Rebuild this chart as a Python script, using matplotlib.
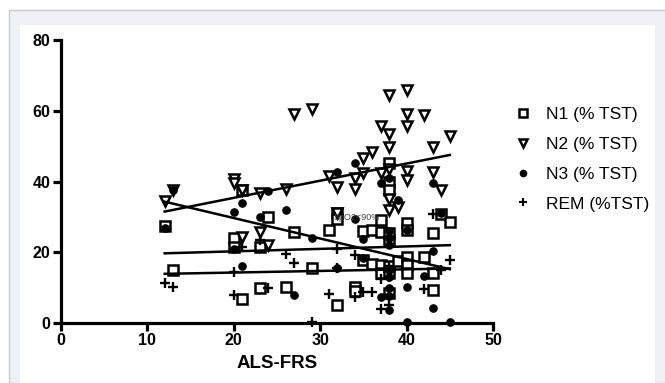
import matplotlib
matplotlib.use('Agg')
import matplotlib.pyplot as plt
from matplotlib.patches import Rectangle
from matplotlib.lines import Line2D

# data
n1_x = [12, 13, 20, 20, 21, 21, 23, 23, 24, 26, 27, 29, 31, 32, 32, 32, 34, 34, 35, 35, 36, 36,
        37, 37, 37, 37, 38, 38, 38, 38, 38, 38, 38, 38, 39, 40, 40, 40, 40, 40, 42, 43, 43, 43, 44, 45]
n1_y = [27.3, 15, 23.9, 21.5, 37.7, 6.7, 21.6, 10, 30, 10.3, 25.8, 15.6, 26.3, 31, 29.5, 5.1, 10.3, 9, 26, 17.8, 26.3, 16.6,
        29.1, 25.8, 16.4, 14, 45.2, 40, 37.6, 25.4, 23.2, 16.1, 14.2, 8.6, 17.5, 28.2, 26.3, 18.7, 16.4, 14, 18.7, 25.4, 14, 9.3, 30.8, 28.6]

n2_x = [12, 13, 20, 20, 21, 21, 23, 23, 24, 26, 27, 29, 31, 32, 32, 34, 34, 35, 35, 36, 37, 37,
        38, 38, 38, 38, 38, 38, 39, 40, 40, 40, 40, 40, 42, 43, 43, 44, 45]
n2_y = [34.6, 37.7, 40.8, 39.5, 37.5, 24.4, 36.7, 25.8, 22.1, 38, 59.2, 60.4, 41.6, 38.5, 31, 41, 38, 46.6, 42.3, 48.2, 55.7, 42.3,
        64.4, 53.4, 49.8, 43.5, 35, 32, 32.9, 65.9, 59, 55.6, 43, 40.4, 58.8, 49.7, 42.8, 37.6, 52.9]

n3_x = [12, 13, 20, 20, 21, 21, 23, 24, 26, 27, 29, 32, 32, 34, 34, 35, 35, 37, 37, 38, 38, 38, 38,
        38, 38, 38, 38, 38, 39, 40, 40, 40, 42, 43, 43, 43, 44, 45]
n3_y = [26.8, 37.6, 31.5, 21, 34, 16.1, 30, 37.3, 31.9, 7.9, 24, 42.8, 15.6, 45.3, 29.3, 23.8, 18.5, 39.5, 7.4, 41, 26, 24, 22,
        15, 13, 10, 7.5, 3.7, 34.8, 26.4, 10.3, 0.4, 13.3, 39.7, 20.3, 4.1, 31.1, 0.4]

rem_x = [12, 13, 20, 20, 21, 23, 24, 26, 27, 29, 31, 32, 32, 34, 34, 35, 36, 37, 37, 38, 38, 38, 38,
         42, 43, 44, 45]
rem_y = [11.4, 10.3, 14.5, 7.9, 21.6, 23.5, 10, 19.5, 16.9, 0.4, 8.1, 20.8, 15.5, 19.1, 7.4, 8.8, 8.8, 3.9, 12.4, 16, 13, 8, 5,
         9.6, 30.7, 15, 17.8]

# regression lines (end values at x=12 and x=45)
fit_x = [12, 45]
n1_fit = [19.7, 22.0]
n2_fit = [31.5, 47.5]
n3_fit = [34.3, 15.2]
rem_fit = [13.9, 15.4]

labels = ['N1 (% TST)', 'N2 (% TST)', 'N3 (% TST)', 'REM (%TST)']

plt.rcParams['font.family'] = ['Liberation Sans', 'DejaVu Sans']

fig = plt.figure(figsize=(6.65, 3.83), dpi=100)
fig.patch.set_facecolor('white')
# page-like background
fig.patches.append(Rectangle((9 / 665, 0), 1, 1 - 10 / 383, transform=fig.transFigure,
                             facecolor='#f0f0f7', edgecolor='#c8c8d0', linewidth=1, zorder=-2))
fig.patches.append(Rectangle((20 / 665, 0), 635 / 665, 1 - 25 / 383, transform=fig.transFigure,
                             facecolor='white', edgecolor='none', zorder=-1))

ax = fig.add_axes([61 / 665, 60 / 383, 432 / 665, 283 / 383])
ax.set_facecolor('none')
ax.set_zorder(2)

ax.plot(n1_x, n1_y, ls='none', marker='s', ms=6.8, mfc='white', mec='black', mew=1.8, zorder=3, clip_on=False)
ax.plot(n2_x, n2_y, ls='none', marker='v', ms=7.3, mfc='white', mec='black', mew=1.8, zorder=3, clip_on=False)
ax.plot(n3_x, n3_y, ls='none', marker='o', ms=5.2, mfc='black', mec='black', zorder=3, clip_on=False)
ax.plot(rem_x, rem_y, ls='none', marker='+', ms=7.2, mec='black', mew=1.7, zorder=3, clip_on=False)

for f in [n1_fit, n2_fit, n3_fit, rem_fit]:
    ax.plot(fit_x, f, color='black', lw=1.8, zorder=4)

ax.text(31.6, 29.8, 'SpO2<90%', fontsize=6.5, color='#444444', va='center', zorder=5)

ax.set_xlim(0, 50)
ax.set_ylim(0, 80)
ax.set_xticks([0, 10, 20, 30, 40, 50])
ax.set_yticks([0, 20, 40, 60, 80])
for s in ['top', 'right']:
    ax.spines[s].set_visible(False)
for s in ['left', 'bottom']:
    ax.spines[s].set_linewidth(2.3)
ax.tick_params(width=2.3, length=6, labelsize=11.5, pad=1.5)
for t in ax.get_xticklabels() + ax.get_yticklabels():
    t.set_fontweight('bold')
ax.set_xlabel('ALS-FRS', fontsize=13.5, fontweight='bold', labelpad=5)

handles = [
    Line2D([], [], ls='none', marker='s', ms=5.5, mfc='white', mec='black', mew=1.8),
    Line2D([], [], ls='none', marker='v', ms=6, mfc='white', mec='black', mew=1.8),
    Line2D([], [], ls='none', marker='o', ms=4.5, mfc='black', mec='black'),
    Line2D([], [], ls='none', marker='+', ms=6, mec='black', mew=1.5),
]
fig.legend(handles, labels, loc='upper left', bbox_to_anchor=(497 / 665, 1 - 91 / 383),
           frameon=False, fontsize=12.5, handlelength=1.2, handletextpad=0.7, labelspacing=0.85)

fig.savefig('out.png', dpi=100)
